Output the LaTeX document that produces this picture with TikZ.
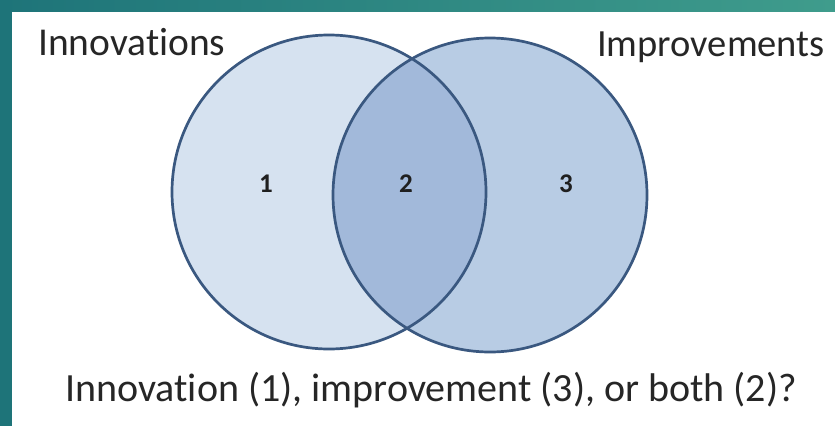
\documentclass[tikz,border=0pt]{standalone}
\usepackage{fontspec}
\setmainfont{Carlito}[Ligatures=NoCommon]
\definecolor{tealA}{HTML}{1E7479}
\definecolor{tealB}{HTML}{3F9C8C}
\definecolor{leftfill}{HTML}{D6E2F0}
\definecolor{rightfill}{HTML}{B8CCE4}
\definecolor{midfill}{HTML}{A2B9DA}
\definecolor{ringcol}{HTML}{3A5880}
\tikzset{
  venn/.style={circle, minimum size=314pt, inner sep=0pt},
  label/.style={anchor=base west, text=black!85, inner sep=0pt},
  num/.style={font=\fontsize{27}{29}\selectfont\bfseries, text=black!88, inner sep=0pt}
}
\begin{document}
\begin{tikzpicture}[x=1pt,y=-1pt]
\useasboundingbox (0,0) rectangle (835,426);
\fill[white] (0,0) rectangle (835,426);
\shade[left color=tealA, right color=tealB] (0,0) rectangle (835,11);
\fill[tealA] (0,0) rectangle (12,426);
\coordinate (cl) at (329,192);
\coordinate (cr) at (490,195);
\node[venn, fill=leftfill] (A) at (cl) {};
\node[venn, fill=rightfill] (B) at (cr) {};
\begin{scope}
  \clip (cl) circle[radius=157pt];
  \fill[midfill] (cr) circle[radius=157pt];
\end{scope}
\draw[ringcol, line width=2.7pt] (cl) circle[radius=157pt];
\draw[ringcol, line width=2.7pt] (cr) circle[radius=157pt];
\node[num] (n1) at (266,184) {1};
\node[num] (n2) at (406,184) {2};
\node[num] (n3) at (566,184) {3};
\node[label, font=\fontsize{39.5}{41}\selectfont] (t1) at (38,55) {Innovations};
\node[label, font=\fontsize{38.5}{41}\selectfont] (t2) at (597,56) {Improvements};
\node[label, font=\fontsize{40}{42}\selectfont] (t3) at (65,401) {Innovation (1), improvement (3), or both (2)?};
\end{tikzpicture}
\end{document}
